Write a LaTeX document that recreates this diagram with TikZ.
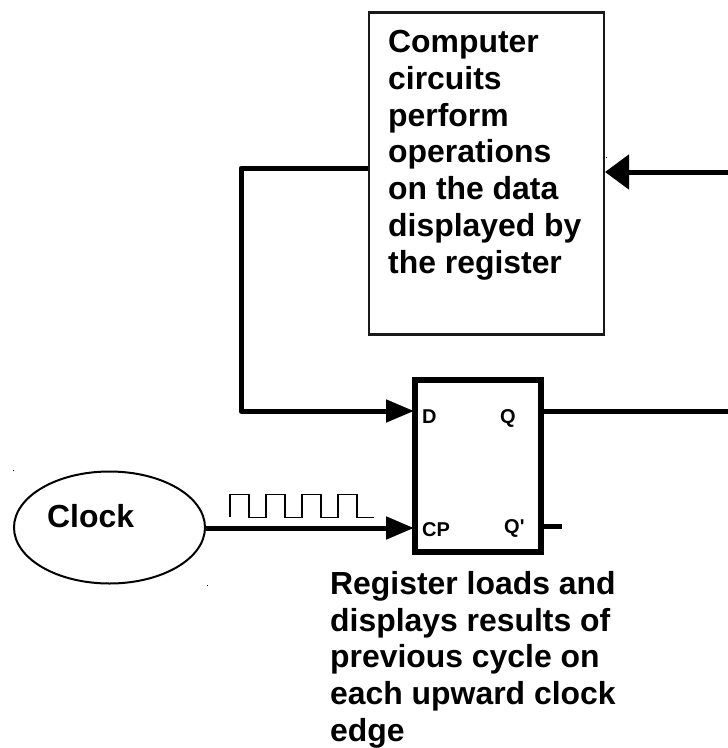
\documentclass[tikz,border=0pt]{standalone}
\usepackage{fontspec}
\setmainfont{Liberation Sans}
\newfontfamily\pinfont{Liberation Sans}
\usetikzlibrary{arrows.meta,shapes.geometric}
\tikzset{
  lbl/.style={font=\bfseries\fontsize{31.9}{36.8}\selectfont,inner sep=0pt,align=left},
  pin/.style={font=\pinfont\bfseries\fontsize{20}{24}\selectfont,inner sep=0pt,anchor=base west},
  wire/.style={line width=5pt,line join=round},
  inarrow/.style={wire,-{Triangle[length=28pt,width=22pt]}},
  bigarrow/.style={wire,-{Triangle[length=24pt,width=34pt]}},
  speck/.style={fill=black,inner sep=0pt,minimum size=1pt,shape=rectangle}
}
\begin{document}
\begin{tikzpicture}[x=1pt,y=-1pt]
\useasboundingbox (0,0) rectangle (728,748);
% blocks
\node[draw=black!90,line width=2.8pt,minimum width=235pt,minimum height=322pt,inner sep=0pt] (comp) at (486.5,173.5) {};
\node[draw=black,line width=5.5pt,minimum width=126pt,minimum height=172pt,inner sep=0pt] (reg) at (478,466) {};
\node[draw=black,line width=2pt,ellipse,minimum width=191pt,minimum height=112pt,inner sep=0pt] (clk) at (109.5,527.5) {};
% ports
\coordinate (compL) at (368,168);
\coordinate (compR) at (605,172);
\coordinate (bend1) at (241,168);
\coordinate (bend2) at (241,411);
\coordinate (regD) at (414,411);
\coordinate (regCP) at (414,528);
\coordinate (regQ) at (544,411);
\coordinate (regQn) at (544,526);
\coordinate (endQ) at (728,411);
\coordinate (endR) at (728,172);
\coordinate (endQn) at (562,526);
\coordinate (clkR) at (206,528);
% connectors
\draw[inarrow] (compL) -- (bend1) -- (bend2) -- (regD);
\draw[inarrow] (clkR) -- (regCP);
\draw[wire] (regQ) -- (endQ);
\draw[wire] (regQn) -- (endQn);
\draw[bigarrow] (endR) -- (compR);
% clock waveform
\draw[line width=1.6pt,line join=miter] (230,517) -- (230,494.5) -- (249,494.5) -- (249,517.5) -- (266,517.5) -- (266,494.5) -- (285,494.5) -- (285,517.5) -- (302,517.5) -- (302,494.5) -- (321,494.5) -- (321,517.5) -- (338,517.5) -- (338,494.5) -- (357,494.5) -- (357,517.5) -- (374,517.5);
% texts
\node[lbl,anchor=north west] (ctext) at (388,30) {Computer\\circuits\\perform\\operations\\on the data\\displayed by\\the register};
\node[lbl,anchor=base west] (clabel) at (47,527) {Clock};
\node[lbl,anchor=north west] (rtext) at (330,571) {Register loads and\\displays results of\\previous cycle on\\each upward clock\\edge};
\node[pin] (pd) at (422,423) {D};
\node[pin] (pq) at (500,423) {Q};
\node[pin] (pcp) at (422,536) {CP};
\node[pin] (pqn) at (504,533) {Q'};
% specks
\node[speck] (s1) at (13,470) {};
\node[speck] (s2) at (207,585) {};
\node[speck] (s3) at (606,157) {};
\end{tikzpicture}
\end{document}
